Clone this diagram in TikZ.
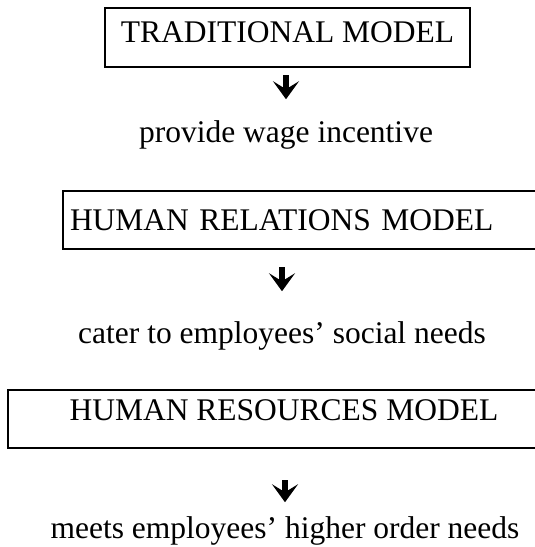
\documentclass[tikz,border=0pt]{standalone}
\usepackage{fontspec}
\setmainfont{Liberation Serif}
\usetikzlibrary{arrows.meta}

\begin{document}
\begin{tikzpicture}[x=0.5pt,y=-0.5pt,
        modelbox/.style={draw,line width=1.2pt,inner sep=0pt,outer sep=0pt,font=\fontsize{15.75}{19}\selectfont},
        result/.style={inner sep=0pt,anchor=base,font=\fontsize{15.75}{19}\selectfont},
        downarrow/.style={-{Stealth[length=9pt,width=13pt,inset=4pt]},line width=2.8pt}]%
        \useasboundingbox (0,0) rectangle (535,547);
        \node[modelbox,minimum width=182.5pt,text height=17pt,text depth=12.5pt] (trad) at (287.5,37.5) {TRADITIONAL MODEL};
        \node[modelbox,text width=234pt,inner xsep=3.5pt,align=left,text height=19.5pt,text depth=9.5pt] (relations) at (304,220) {HUMAN RELATIONS MODEL};
        \node[modelbox,minimum width=276pt,text height=15pt,text depth=14pt] (resources) at (284,419) {HUMAN RESOURCES MODEL};
        \node[result] (wage) at (286,142) {provide wage incentive};
        \node[result] (social) at (282,343) {cater to employees' social needs};
        \node[result] (higher) at (285,538) {meets employees' higher order needs};
        \draw[downarrow,shorten <=4pt,shorten >=10.25pt] (trad.south -| wage.north) -- (wage.north);
        \draw[downarrow,shorten <=9pt,shorten >=14.75pt] (relations.south -| social.north) -- (social.north);
        \draw[downarrow,shorten <=16pt,shorten >=6.75pt] (resources.south -| higher.north) -- (higher.north);
    \end{tikzpicture}
\end{document}
